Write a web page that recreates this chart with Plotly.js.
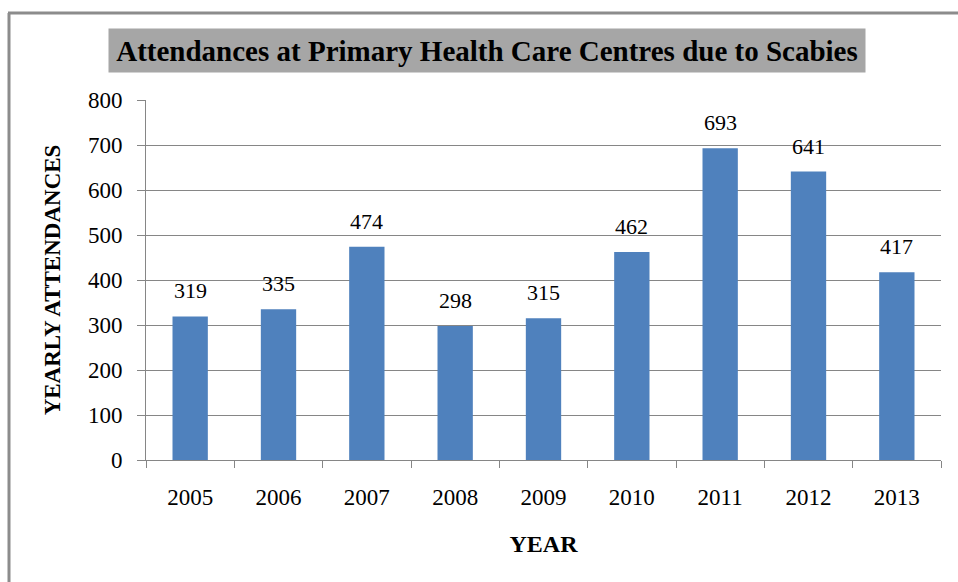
<!DOCTYPE html>
<html>
<head>
<meta charset="utf-8">
<script src="https://cdn.plot.ly/plotly-3.0.1.min.js"></script>
<style>
html,body{margin:0;padding:0;background:#fff;}
#chart{width:958px;height:582px;}
</style>
</head>
<body>
<div id="chart"></div>
<script>
const years = ['2005','2006','2007','2008','2009','2010','2011','2012','2013'];
const attendances = [319, 335, 474, 298, 315, 462, 693, 641, 417];
const yTicks = [0, 100, 200, 300, 400, 500, 600, 700, 800];
const chartTitle = 'Attendances at Primary Health Care Centres due to Scabies';
const xTitle = 'YEAR';
const yTitle = 'YEARLY ATTENDANCES';

const serif = '"Liberation Serif", "Times New Roman", serif';

const trace = {
  type: 'bar',
  x: years,
  y: attendances,
  marker: {color: '#4F81BD', line: {width: 0}},
  hoverinfo: 'x+y'
};

// value labels placed at each category (by its index on the category axis)
const valueLabels = years.map((yr, i) => ({
  x: i, y: attendances[i], xref: 'x', yref: 'y',
  text: String(attendances[i]),
  showarrow: false, xanchor: 'center', yanchor: 'bottom', yshift: 11,
  font: {family: serif, size: 22, color: '#000'}
}));

const layout = {
  width: 958,
  height: 582,
  margin: {l: 146, r: 17, t: 100, b: 122},
  paper_bgcolor: '#fff',
  plot_bgcolor: '#fff',
  bargap: 0.6,
  showlegend: false,
  font: {family: serif, color: '#000'},
  xaxis: {
    type: 'category',
    categoryorder: 'array',
    categoryarray: years,
    range: [-0.5, years.length - 0.5],
    tickson: 'boundaries',
    ticks: 'outside',
    ticklen: 7,
    tickcolor: '#868686',
    ticklabelstandoff: 16,
    tickangle: 0,
    showline: true,
    linecolor: '#868686',
    linewidth: 1,
    showgrid: false,
    tickfont: {family: serif, size: 23, color: '#000'},
    title: {text: '<b>' + xTitle + '</b>', font: {family: serif, size: 24, color: '#000'}, standoff: 26}
  },
  yaxis: {
    range: [0, 800],
    tickvals: yTicks,
    ticktext: yTicks.map(String),
    ticks: 'outside',
    ticklen: 8,
    tickcolor: '#868686',
    ticklabelstandoff: 10,
    showline: true,
    linecolor: '#868686',
    linewidth: 1,
    showgrid: true,
    gridcolor: '#868686',
    gridwidth: 1,
    zeroline: false,
    tickfont: {family: serif, size: 23, color: '#000'},
    title: {text: '<b>' + yTitle + '</b>', font: {family: serif, size: 23, color: '#000'}, standoff: 20}
  },
  annotations: [{
    xref: 'paper', yref: 'paper',
    x: (487 - 146) / 795, y: (582 - 122 - 50.5) / 360,
    xanchor: 'center', yanchor: 'middle',
    text: '<b>' + chartTitle + '</b>',
    showarrow: false,
    bgcolor: '#A6A6A6',
    width: 750, height: 37,
    borderpad: 3,
    font: {family: serif, size: 29, color: '#000'}
  }].concat(valueLabels),
  shapes: [
    {type: 'line', xref: 'paper', yref: 'paper', x0: -138/795, x1: 1.03, y0: 447/360, y1: 447/360, line: {color: '#8C8C8C', width: 3}},
    {type: 'line', xref: 'paper', yref: 'paper', x0: -137/795, x1: -137/795, y0: 447/360, y1: -0.4, line: {color: '#8C8C8C', width: 3}}
  ]
};

Plotly.newPlot('chart', [trace], layout, {displayModeBar: false, staticPlot: true});
</script>
</body>
</html>
